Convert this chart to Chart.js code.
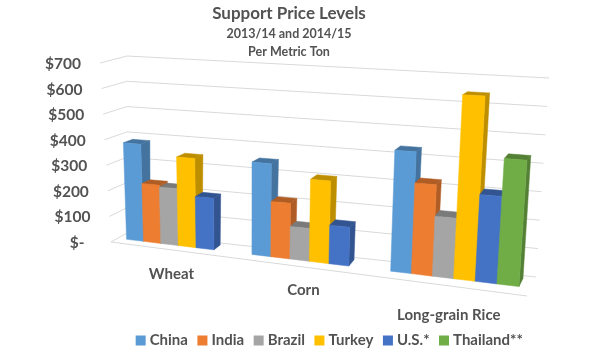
<!DOCTYPE html>
<html lang="en">
<head>
    <meta charset="UTF-8">
    <title>Support Price Levels</title>
    <script src="https://cdn.jsdelivr.net/npm/chart.js"></script>
    <style>
        html, body { margin: 0; padding: 0; background: #fff; }
        #wrap { width: 610px; height: 358px; }
    </style>
</head>
<body>
    <div id="wrap"><canvas id="priceChart" width="610" height="358"></canvas></div>

    <script>
        // Data
        const categories = ['Wheat', 'Corn', 'Long-grain Rice'];
        const china = [378, 345, 430];
        const india = [225, 205, 320];
        const brazil = [218, 120, 210];
        const turkey = [340, 300, 640];
        const us = [195, 140, 300];
        const thailand = [null, null, 430];
        const tickValues = [0, 100, 200, 300, 400, 500, 600, 700];

        const textColor = '#525252';
        const fontName = 'Lato, "Open Sans", sans-serif';

        // Corners of the 3D box on screen (front = nearest to viewer)
        const frontLeftTop = [100, 63], frontLeftBottom = [111, 242];
        const frontRightTop = [541, 84], frontRightBottom = [527, 296];
        const backLeftTop = [127, 56], backLeftBottom = [127, 233];
        const backRightTop = [549, 78], backRightBottom = [536, 277];

        const barFront = 0.42, barBack = 0.85;
        const stretch = 0.145; // bars get wider towards the right
        const labelDrop = [24, 23, 29]; // category labels below the floor edge

        function mix(a, b, f) {
            return [a[0] + (b[0] - a[0]) * f, a[1] + (b[1] - a[1]) * f];
        }

        // u across, t up, d into the picture, all 0..1
        function project(u, t, d) {
            const w = u - stretch * u * (1 - u);
            const front = mix(mix(frontLeftBottom, frontRightBottom, w), mix(frontLeftTop, frontRightTop, w), t);
            const back = mix(mix(backLeftBottom, backRightBottom, w), mix(backLeftTop, backRightTop, w), t);
            return mix(front, back, d);
        }

        function darken(hex, f) {
            const n = parseInt(hex.slice(1), 16);
            const r = Math.round((n >> 16) * f), g = Math.round(((n >> 8) & 255) * f), b = Math.round((n & 255) * f);
            return `rgb(${r},${g},${b})`;
        }

        function face(ctx, pts, color) {
            ctx.beginPath();
            pts.forEach((p, i) => i ? ctx.lineTo(p[0], p[1]) : ctx.moveTo(p[0], p[1]));
            ctx.closePath();
            ctx.fillStyle = color;
            ctx.fill();
            ctx.strokeStyle = color;
            ctx.lineWidth = 0.5;
            ctx.stroke();
        }

        const box3d = {
            id: 'box3d',
            afterLayout(chart) {
                // legend sits right of the title centre
                chart.legend.left += 42;
                chart.legend.right += 42;
            },
            beforeDatasetsDraw(chart) {
                const { ctx, chartArea: a, scales: { x, y } } = chart;
                const toU = px => (px - a.left) / (a.right - a.left);
                const toT = py => (a.bottom - py) / (a.bottom - a.top);

                // gridlines on left and back wall, plus the value labels
                ctx.save();
                ctx.strokeStyle = '#d9d9d9';
                ctx.lineWidth = 1;
                y.ticks.forEach(tick => {
                    const t = toT(y.getPixelForValue(tick.value));
                    const p0 = project(0, t, 0), p1 = project(0, t, 1), p2 = project(1, t, 1);
                    ctx.beginPath();
                    ctx.moveTo(p0[0], p0[1]);
                    ctx.lineTo(p1[0], p1[1]);
                    ctx.lineTo(p2[0], p2[1]);
                    ctx.stroke();

                    ctx.fillStyle = textColor;
                    ctx.font = `bold 15.5px ${fontName}`;
                    ctx.textAlign = 'right';
                    ctx.textBaseline = 'middle';
                    ctx.fillText(tick.label, p0[0] - 19, p0[1] + 1);
                });

                // floor front edge
                const f0 = project(0, 0, 0), f1 = project(1, 0, 0);
                ctx.beginPath();
                ctx.moveTo(f0[0], f0[1]);
                ctx.lineTo(f1[0], f1[1]);
                ctx.stroke();

                // category labels under the floor
                ctx.fillStyle = textColor;
                ctx.font = `bold 15px ${fontName}`;
                ctx.textAlign = 'center';
                x.ticks.forEach((tick, i) => {
                    const p = project(toU(x.getPixelForTick(i)), 0, 0);
                    ctx.fillText(categories[i], p[0] - 0.5, p[1] + labelDrop[i]);
                });

                // bars, left to right so each one covers its left neighbour's side
                for (let c = 0; c < categories.length; c++) {
                    chart.data.datasets.forEach((ds, i) => {
                        if (ds.data[c] === null) return;
                        const bar = chart.getDatasetMeta(i).data[c].getProps(['x', 'y', 'base', 'width']);
                        const u0 = toU(bar.x - bar.width / 2), u1 = toU(bar.x + bar.width / 2);
                        const t0 = toT(bar.base), t1 = toT(bar.y);
                        const dark = darken(ds.backgroundColor, 0.74);
                        face(ctx, [project(u1, t0, barFront), project(u1, t0, barBack), project(u1, t1, barBack), project(u1, t1, barFront)], dark);
                        face(ctx, [project(u0, t1, barFront), project(u1, t1, barFront), project(u1, t1, barBack), project(u0, t1, barBack)], dark);
                        face(ctx, [project(u0, t0, barFront), project(u1, t0, barFront), project(u1, t1, barFront), project(u0, t1, barFront)], ds.backgroundColor);
                    });
                }
                ctx.restore();
                return false; // faces above replace the flat bars
            }
        };

        new Chart(document.getElementById('priceChart'), {
            type: 'bar',
            plugins: [box3d],
            data: {
                labels: categories,
                datasets: [
                    { label: 'China', data: china, backgroundColor: '#5B9BD5' },
                    { label: 'India', data: india, backgroundColor: '#ED7D31' },
                    { label: 'Brazil', data: brazil, backgroundColor: '#A5A5A5' },
                    { label: 'Turkey', data: turkey, backgroundColor: '#FFC000' },
                    { label: 'U.S.*', data: us, backgroundColor: '#4472C4' },
                    { label: 'Thailand**', data: thailand, backgroundColor: '#70AD47' }
                ]
            },
            options: {
                responsive: false,
                animation: false,
                layout: { padding: { right: 32, top: 3, bottom: 0 } },
                categoryPercentage: 0.85,
                barPercentage: 1,
                plugins: {
                    title: {
                        display: true,
                        text: 'Support Price Levels',
                        color: textColor,
                        font: { family: fontName, size: 17, weight: 'bold' },
                        padding: { top: 0, bottom: 2 }
                    },
                    subtitle: {
                        display: true,
                        text: ['2013/14 and 2014/15', 'Per Metric Ton'],
                        color: textColor,
                        font: { family: fontName, size: 12.5, weight: 'bold', lineHeight: 1.4 },
                        padding: { top: 0, bottom: 4 }
                    },
                    legend: {
                        position: 'bottom',
                        labels: {
                            color: textColor,
                            font: { family: fontName, size: 15, weight: 'bold' },
                            usePointStyle: true,
                            pointStyle: 'rect',
                            boxWidth: 3,
                            boxHeight: 10,
                            padding: 13
                        }
                    },
                    tooltip: { enabled: false }
                },
                scales: {
                    x: {
                        grid: { display: false },
                        border: { display: false },
                        ticks: { display: false }
                    },
                    y: {
                        min: 0,
                        max: 700,
                        afterBuildTicks(axis) {
                            axis.ticks = tickValues.map(v => ({ value: v }));
                        },
                        grid: { display: false },
                        border: { display: false },
                        ticks: {
                            display: false,
                            callback: v => v === 0 ? '$-  ' : '$' + v
                        }
                    }
                }
            }
        });
    </script>
</body>
</html>
